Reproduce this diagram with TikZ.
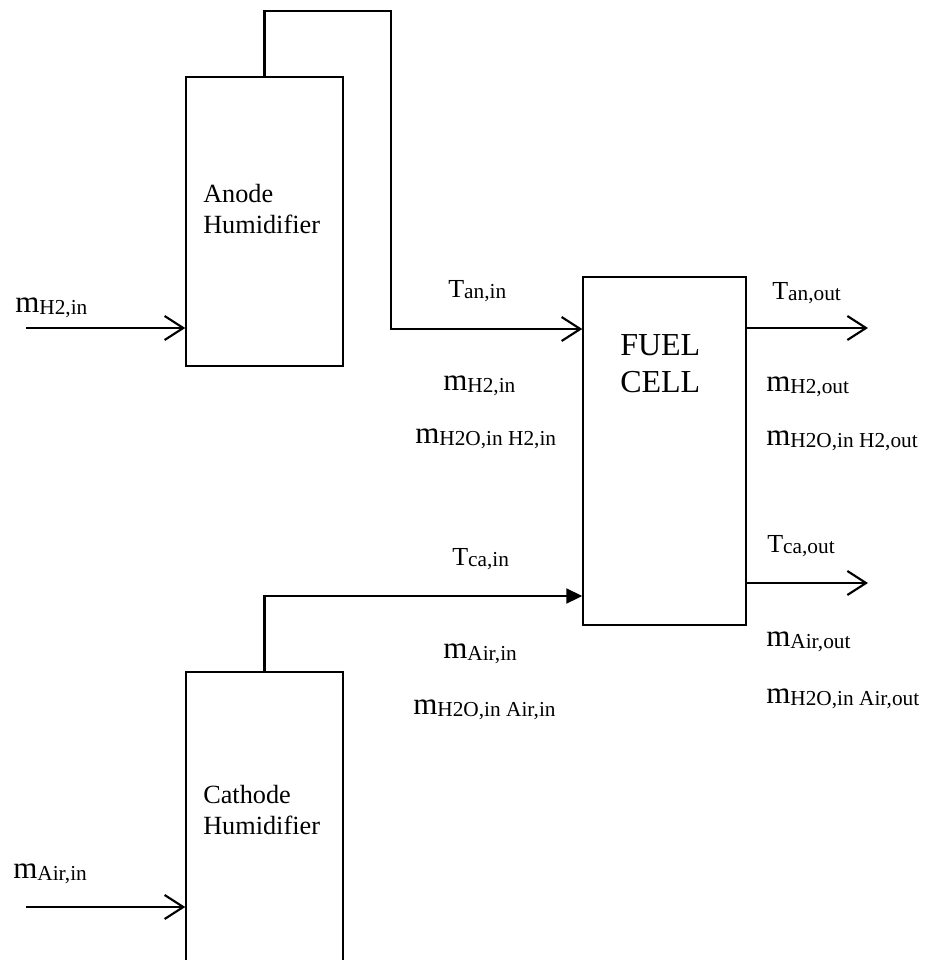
\documentclass[tikz,border=0pt]{standalone}
\usepackage{fontspec}
\setmainfont{Liberation Serif}
\usetikzlibrary{arrows.meta}
\newcommand{\mainsz}{\fontsize{23.25}{26}\selectfont}
\newcommand{\tsz}{\fontsize{19.5}{22}\selectfont}
\newcommand{\subsz}{\fontsize{16}{18}\selectfont}
\newcommand{\mlab}[1]{{\mainsz m}\raisebox{-2.2pt}{\subsz #1}}
\newcommand{\tlab}[1]{{\tsz T}\raisebox{-1pt}{\subsz #1}}
\begin{document}
\begin{tikzpicture}[x=0.75pt,y=-0.75pt,
  box/.style={draw,line width=1.1pt,rectangle,inner sep=0pt},
  txt/.style={inner sep=0pt,anchor=base west},
  conn/.style={line width=1.6pt},
  openarr/.style={conn,-{Straight Barb[length=14pt,width=18pt,line width=1.6pt]}},
  fillarr/.style={conn,-{Triangle[length=12pt,width=11.25pt]}}]
\useasboundingbox (0,0) rectangle (925,960);
% boxes
\node[box,minimum width=117.75pt,minimum height=216.75pt] (anode) at (264.5,221.5) {};
\node[box,minimum width=122.25pt,minimum height=261pt] (fc) at (664.5,451) {};
\node[box,minimum width=117.75pt,minimum height=246pt] (cath) at (264.5,836) {};
% box texts
\node[txt] (an1) at (203,202) {\fontsize{19.7}{23}\selectfont Anode};
\node[txt] (an2) at (203,233) {\fontsize{19.7}{23}\selectfont Humidifier};
\node[txt] (ca1) at (203,803) {\fontsize{19.7}{23}\selectfont Cathode};
\node[txt] (ca2) at (203,834) {\fontsize{19.7}{23}\selectfont Humidifier};
\node[txt] (fc1) at (620,355) {\fontsize{24}{28}\selectfont FUEL};
\node[txt] (fc2) at (620,392) {\fontsize{24}{28}\selectfont CELL};
% coordinates
\coordinate (a1) at (391,10.7);
\coordinate (a2) at (391,329);
\coordinate (c1) at (500,596);
\coordinate (in1) at (26,328);
\coordinate (in2) at (26,907);
\coordinate (out1) at (868,328);
\coordinate (out2) at (868,583);
% connectors
\draw[openarr] (anode.north) |- (a1) -- (a2) -- (a2 -| fc.west);
\draw[fillarr] (cath.north) |- (c1 -| fc.west);
\draw[openarr] (in1) -- (in1 -| anode.west);
\draw[openarr] (in2) -- (in2 -| cath.west);
\draw[openarr] (out1 -| fc.east) -- (out1);
\draw[openarr] (out2 -| fc.east) -- (out2);
% labels
\node[txt] (l1) at (15,312) {\mlab{H2,in}};
\node[txt] (l2) at (13,878) {\mlab{Air,in}};
\node[txt] (l3) at (448,297) {\tlab{an,in}};
\node[txt] (l4) at (443,390) {\mlab{H2,in}};
\node[txt] (l5) at (415,443) {\mlab{H2O,in H2,in}};
\node[txt] (l6) at (772,299) {\tlab{an,out}};
\node[txt] (l7) at (766,391) {\mlab{H2,out}};
\node[txt] (l8) at (766,445) {\mlab{H2O,in H2,out}};
\node[txt] (l9) at (452,565) {\tlab{ca,in}};
\node[txt] (l10) at (443,658) {\mlab{Air,in}};
\node[txt] (l11) at (413,714) {\mlab{H2O,in Air,in}};
\node[txt] (l12) at (767,552) {\tlab{ca,out}};
\node[txt] (l13) at (766,646) {\mlab{Air,out}};
\node[txt] (l14) at (766,703) {\mlab{H2O,in Air,out}};
\end{tikzpicture}
\end{document}
